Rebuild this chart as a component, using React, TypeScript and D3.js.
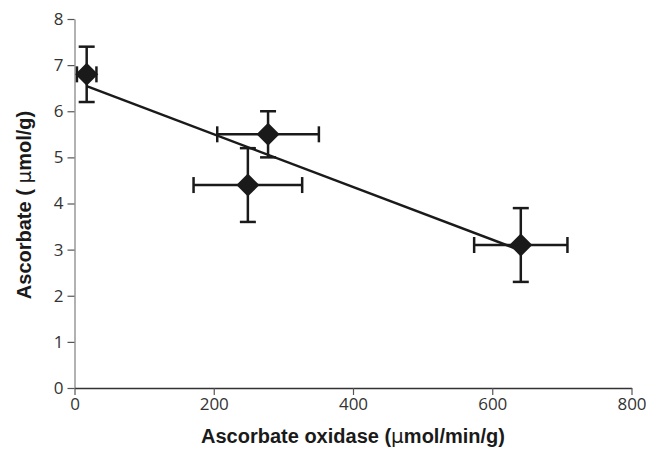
import React, { useEffect, useRef } from 'react';
import * as d3 from 'd3';

const W = 646;
const H = 450;

// ascorbate oxidase activity (umol/min/g) and ascorbate (umol/g)
const oxidase = [17.5, 278, 249, 641];
const oxidaseErr = [14, 73, 78, 67];
const ascorbate = [6.8, 5.5, 4.4, 3.1];
const ascorbateErr = [0.6, 0.5, 0.8, 0.8];

const xTicks = [0, 200, 400, 600, 800];
const yTicks = [0, 1, 2, 3, 4, 5, 6, 7, 8];

function App() {
  const svgRef = useRef(null);

  useEffect(() => {
    const svg = d3.select(svgRef.current);
    svg.selectAll('*').remove();

    const x = d3.scaleLinear().domain([0, 800]).range([74.5, 631.5]);
    const y = d3.scaleLinear().domain([0, 8]).range([388, 19]);

    const pts = oxidase.map((v, i) => ({
      x: v, y: ascorbate[i], ex: oxidaseErr[i], ey: ascorbateErr[i]
    }));

    // axes
    const yAxis = svg.append('g')
      .attr('transform', 'translate(' + x(0) + ',0)')
      .call(d3.axisLeft(y).tickValues(yTicks).tickSize(7).tickSizeOuter(0).tickPadding(4));
    yAxis.select('.domain').attr('stroke', '#888').attr('stroke-width', 1.3);
    yAxis.selectAll('.tick line').attr('stroke', '#555').attr('stroke-width', 1.2);

    const xAxis = svg.append('g')
      .attr('transform', 'translate(0,' + y(0) + ')')
      .call(d3.axisBottom(x).tickValues(xTicks).tickSize(7).tickSizeOuter(0).tickPadding(3));
    xAxis.select('.domain').attr('stroke', '#333').attr('stroke-width', 1.3);
    xAxis.selectAll('.tick line').attr('stroke', '#555').attr('stroke-width', 1.2);

    svg.selectAll('.tick text')
      .attr('font-family', '"Open Sans", sans-serif')
      .attr('font-size', 17)
      .attr('fill', '#333');

    // linear regression line
    const mx = d3.mean(oxidase);
    const my = d3.mean(ascorbate);
    const sxy = d3.sum(oxidase, (v, i) => (v - mx) * (ascorbate[i] - my));
    const sxx = d3.sum(oxidase, v => (v - mx) * (v - mx));
    const slope = sxy / sxx;
    const icept = my - slope * mx;
    const x0 = d3.min(oxidase);
    const x1 = d3.max(oxidase);
    svg.append('line')
      .attr('x1', x(x0)).attr('y1', y(icept + slope * x0))
      .attr('x2', x(x1)).attr('y2', y(icept + slope * x1))
      .attr('stroke', '#1a1a1a')
      .attr('stroke-width', 2.5);

    // error bars
    const cap = 8;
    const bars = svg.selectAll('.err').data(pts).enter()
      .append('g')
        .attr('class', 'err')
        .attr('stroke', '#1a1a1a')
        .attr('stroke-width', 2.5);
    bars.append('line')
      .attr('x1', d => x(d.x)).attr('x2', d => x(d.x))
      .attr('y1', d => y(d.y - d.ey)).attr('y2', d => y(d.y + d.ey));
    bars.append('line')
      .attr('x1', d => x(d.x) - cap).attr('x2', d => x(d.x) + cap)
      .attr('y1', d => y(d.y - d.ey)).attr('y2', d => y(d.y - d.ey));
    bars.append('line')
      .attr('x1', d => x(d.x) - cap).attr('x2', d => x(d.x) + cap)
      .attr('y1', d => y(d.y + d.ey)).attr('y2', d => y(d.y + d.ey));
    bars.append('line')
      .attr('x1', d => x(d.x - d.ex)).attr('x2', d => x(d.x + d.ex))
      .attr('y1', d => y(d.y)).attr('y2', d => y(d.y));
    bars.append('line')
      .attr('x1', d => x(d.x - d.ex)).attr('x2', d => x(d.x - d.ex))
      .attr('y1', d => y(d.y) - cap).attr('y2', d => y(d.y) + cap);
    bars.append('line')
      .attr('x1', d => x(d.x + d.ex)).attr('x2', d => x(d.x + d.ex))
      .attr('y1', d => y(d.y) - cap).attr('y2', d => y(d.y) + cap);

    // diamond markers
    const r = 11.5;
    svg.selectAll('.pt').data(pts).enter()
      .append('path')
        .attr('class', 'pt')
        .attr('d', d => {
          const cx = x(d.x), cy = y(d.y);
          return 'M' + cx + ',' + (cy - r) + 'L' + (cx + r) + ',' + cy +
                 'L' + cx + ',' + (cy + r) + 'L' + (cx - r) + ',' + cy + 'Z';
        })
        .attr('fill', '#1a1a1a');

    // axis titles
    const xt = svg.append('text')
      .attr('x', 353).attr('y', 443)
      .attr('text-anchor', 'middle')
      .attr('font-family', '"Liberation Sans", Arial, sans-serif')
      .attr('font-weight', 'bold')
      .attr('font-size', 20)
      .attr('fill', '#1a1a1a');
    xt.append('tspan').text('Ascorbate oxidase (');
    xt.append('tspan').attr('font-weight', 'normal').attr('font-family', '"DejaVu Sans", sans-serif').text('μ');
    xt.append('tspan').text('mol/min/g)');

    const yt = svg.append('text')
      .attr('transform', 'translate(31,205) rotate(-90)')
      .attr('text-anchor', 'middle')
      .attr('font-family', '"Liberation Sans", Arial, sans-serif')
      .attr('font-weight', 'bold')
      .attr('font-size', 20)
      .attr('fill', '#1a1a1a');
    yt.append('tspan').text('Ascorbate ( ');
    yt.append('tspan').attr('font-weight', 'normal').attr('font-family', '"DejaVu Sans", sans-serif').text('μ');
    yt.append('tspan').text('mol/g)');
  }, []);

  return (
    <svg ref={svgRef} width={W} height={H}
         style={{ position: 'absolute', left: 0, top: 0, background: '#fff' }}>
    </svg>
  );
}

export default App;
